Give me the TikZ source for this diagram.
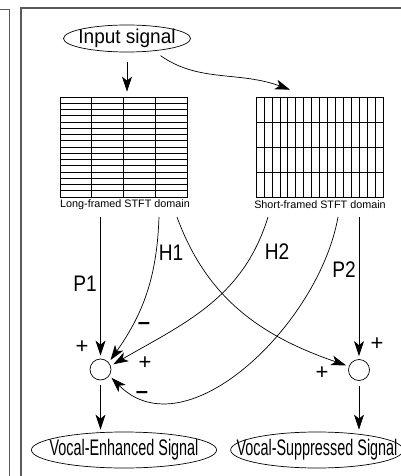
\documentclass[tikz,border=0pt]{standalone}
\usepackage{fontspec}
\setmainfont{Liberation Sans}
\newfontfamily\narrowfont[FakeStretch=0.64]{Liberation Sans}
\newfontfamily\labelfont[FakeStretch=0.85]{Liberation Sans}
\newfontfamily\inputfont[FakeStretch=0.95]{Liberation Sans}
\usetikzlibrary{shapes.geometric,arrows.meta}

\begin{document}
\begin{tikzpicture}[x=1pt,y=1pt,line width=0.7pt,
    >={Stealth[length=15pt,width=10pt,inset=4pt]}]

        \useasboundingbox (0,0) rectangle (401,-476);

        \begin{scope}[gray!70!black, line width=1.6pt]
          \draw (0,-9.5) -- (9.5,-9.5) -- (9.5,-476);
          \draw (21,-476) -- (21,-8) -- (401,-8);
        \end{scope}

        \begin{scope}[every node/.style={ellipse, draw, inner ysep=0pt}]
          \node[font=\inputfont\fontsize{20}{22}\selectfont, inner xsep=-3.7pt, minimum height=27] (in) at (127,-38.5) {Input signal};
          \node[font=\narrowfont\fontsize{22.5}{24}\selectfont, inner xsep=-9pt, minimum height=36] (ve) at (124,-450) {Vocal-Enhanced Signal};
          \node[font=\narrowfont\fontsize{22.5}{24}\selectfont, inner xsep=-19.4pt, minimum height=36] (vs) at (317,-450) {Vocal-Suppressed Signal};
        \end{scope}

        \begin{scope}[every node/.style={draw, minimum width=127, minimum height=100, inner sep=0pt}]
          \node (lg) at (123.5,-147) {};
          \node (sg) at (319.5,-147) {};
        \end{scope}

        \begin{scope}[line width=0.6pt]
          \foreach \i in {1,...,3} \draw ({60+31.75*\i},-97) -- ({60+31.75*\i},-197);
          \foreach \j in {1,...,15} \draw (60,{-97-6.25*\j}) -- (187,{-97-6.25*\j});
          \foreach \i in {1,...,15} \draw ({256+7.9375*\i},-97) -- ({256+7.9375*\i},-197);
          \foreach \j in {1,...,3} \draw (256,{-97-25*\j}) -- (383,{-97-25*\j});
        \end{scope}

        \begin{scope}[every node/.style={font=\fontsize{10.8}{12}\selectfont}]
          \node (ll) at (125,-204.5) {Long-framed STFT domain};
          \node (sl) at (320,-204.5) {Short-framed STFT domain};
        \end{scope}

        \begin{scope}[every node/.style={circle, draw, minimum size=21, inner sep=0pt}]
          \node (s1) at (100.5,-369.5) {};
          \node (s2) at (359,-370) {};
        \end{scope}

        \coordinate (p1) at (100.5,-217);
        \coordinate (h1) at (159,-217);
        \coordinate (x1) at (177,-217);
        \coordinate (h2) at (268,-217);
        \coordinate (x2) at (338,-217);
        \coordinate (p2) at (359,-217);

        \begin{scope}[every edge/.style={draw, ->}]
          \path (in.south) edge[shorten <=10pt, shorten >=5pt] (in.south |- lg.north);
          \path (in.-25) edge[shorten <=8pt, out=-35, in=160] ([xshift=-29.5pt, yshift=7pt]sg.north);
          \path (p1) edge[shorten >=3pt] (s1);
          \path (p2) edge[shorten >=3pt] (s2);
          \path (h1) edge[out=-92, in=55, shorten >=3pt] (s1.40);
          \path (x1) edge[out=-70, in=161, shorten >=3pt] (s2.160);
          \path (h2) edge[out=-107, in=30, shorten >=3pt] (s1.20);
          \path (x2) edge[out=-100, in=-45, shorten >=3pt] (s1.-35);
          \path (s1) edge[shorten <=5pt, shorten >=2pt] (s1 |- ve.north);
          \path (s2) edge[shorten <=5pt, shorten >=2pt] (s2 |- vs.north);
        \end{scope}

        \begin{scope}[every node/.style={font=\labelfont\fontsize{22.5}{24}\selectfont}]
          \node (lp1) at (85,-284) {P1};
          \node (lh1) at (171,-253) {H1};
          \node (lh2) at (277,-252) {H2};
          \node (lp2) at (344,-270) {P2};
        \end{scope}

        \begin{scope}[every node/.style={font=\fontsize{22}{24}\selectfont, inner sep=0pt}]
          \node (a1) at (82,-347) {+};
          \node (a2) at (144,-325.5) {\bfseries --};
          \node (a3) at (145,-363) {+};
          \node (a4) at (142,-394.5) {\bfseries --};
          \node (a5) at (377,-344) {+};
          \node (a6) at (322,-373) {+};
        \end{scope}

      \end{tikzpicture}
\end{document}
